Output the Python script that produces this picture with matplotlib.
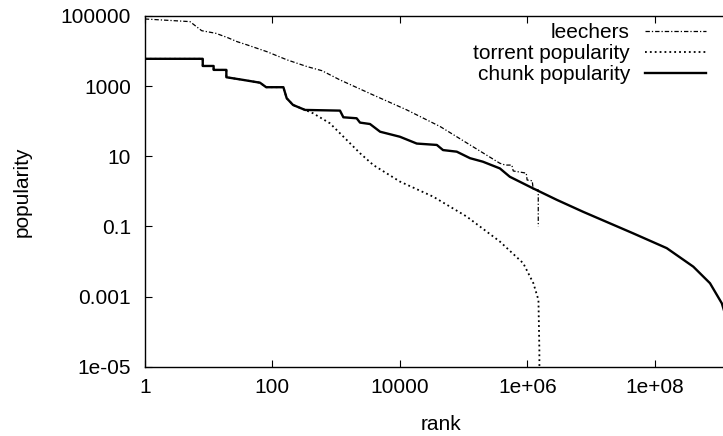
import matplotlib
matplotlib.use("Agg")
import matplotlib.pyplot as plt
from matplotlib.ticker import FixedLocator, FixedFormatter

plt.rcParams['font.family'] = ['Liberation Sans', 'DejaVu Sans']

# values (rank, popularity), log-log
leech_rank = [1, 5.1, 7.8, 13, 20, 28, 40, 82, 170, 350, 600, 1150, 3800, 12800, 43000,
              3.7e5, 4.5e5, 5.7e5, 6.0e5, 9.6e5, 9.9e5, 1.19e6, 1.23e6, 1.48e6, 1.48e6]
leech_pop = [8.2e4, 6.9e4, 3.8e4, 3.2e4, 2.4e4, 1.85e4, 1.5e4, 9600, 5600, 3600, 2750, 1500, 560, 210, 70,
             6.3, 5.6, 5.6, 3.8, 3.3, 2.1, 2.0, 1.17, 1.1, 0.1]

chunk_rank = [1, 8.1, 8.1, 12, 12, 19, 19, 35, 64, 80, 149, 168, 211, 326, 1150, 1300, 2100, 2370,
              3400, 4900, 1.0e4, 1.84e4, 3.8e4, 4.75e4, 7.8e4, 1.26e5, 2.0e5, 3.7e5, 5.3e5, 1.22e6,
              2.9e6, 7.5e6, 4.5e7, 1.53e8, 4.0e8, 7.3e8, 1.12e9, 1.5e9]
chunk_pop = [6000, 6000, 3750, 3750, 2900, 2900, 1790, 1500, 1250, 930, 930, 450, 290, 209, 200, 129,
             121, 91, 83, 50, 36, 23, 21, 15, 13.5, 8.8, 7, 4.5, 2.6, 1.22,
             0.57, 0.26, 0.064, 0.024, 0.0071, 0.0024, 6.4e-4, 1.1e-4]

torrent_rank = [1, 8.1, 8.1, 12, 12, 19, 19, 35, 64, 80, 149, 168, 211, 326, 435, 800, 1470, 2370,
                3840, 1.0e4, 3.35e4, 1.12e5, 3.7e5, 8.6e5, 1.24e6, 1.49e6, 1.54e6, 1.55e6]
torrent_pop = [6000, 6000, 3750, 3750, 2900, 2900, 1790, 1500, 1250, 930, 930, 450, 290, 209, 168, 87,
               29, 12.2, 5.6, 1.9, 0.70, 0.19, 0.037, 0.0089, 0.0024, 8e-4, 3e-5, 1e-6]

x_ticks = [1, 100, 1e4, 1e6, 1e8]
x_labels = ['1', '100', '10000', '1e+06', '1e+08']
y_ticks = [1e-5, 1e-3, 0.1, 10, 1000, 1e5]
y_labels = ['1e-05', '0.001', '0.1', '10', '1000', '100000']

fs = 15

fig = plt.figure(figsize=(7.23, 4.36), dpi=100)
ax = fig.add_axes([0.2003, 0.159, 0.8202, 0.8044])

ax.plot(leech_rank, leech_pop, color='black', lw=0.9, linestyle=(0, (3.5, 1.6, 1, 1.6)), label='leechers')
ax.plot(torrent_rank, torrent_pop, color='black', lw=1.3, linestyle=(0, (1, 1.7)), label='torrent popularity')
ax.plot(chunk_rank, chunk_pop, color='black', lw=1.7, label='chunk popularity')

ax.set_xscale('log')
ax.set_yscale('log')
ax.set_xlim(1, 10 ** 9.3)
ax.set_ylim(1e-5, 1e5)

ax.xaxis.set_major_locator(FixedLocator(x_ticks))
ax.xaxis.set_major_formatter(FixedFormatter(x_labels))
ax.yaxis.set_major_locator(FixedLocator(y_ticks))
ax.yaxis.set_major_formatter(FixedFormatter(y_labels))
ax.xaxis.set_minor_locator(FixedLocator([]))
ax.yaxis.set_minor_locator(FixedLocator([]))
ax.tick_params(which='major', direction='in', length=5, width=0.8, top=True, right=True,
               labelsize=fs)
ax.tick_params(axis='x', pad=8)
ax.tick_params(axis='y', pad=10)
for s in ax.spines.values():
    s.set_linewidth(1.0)

ax.set_xlabel('rank', fontsize=fs, labelpad=13)
ax.set_ylabel('popularity', fontsize=fs, labelpad=21)

leg = fig.legend(loc='upper right', bbox_to_anchor=(706 / 723, 1 - 23 / 436), frameon=False,
                 markerfirst=False, fontsize=fs, handlelength=2.93, handletextpad=0.72,
                 labelspacing=0.1, borderpad=0, borderaxespad=0)
# gnuplot style: right-aligned key text
for col in leg._legend_handle_box.get_children():
    col.align = 'right'

fig.savefig('out.png', dpi=100)
